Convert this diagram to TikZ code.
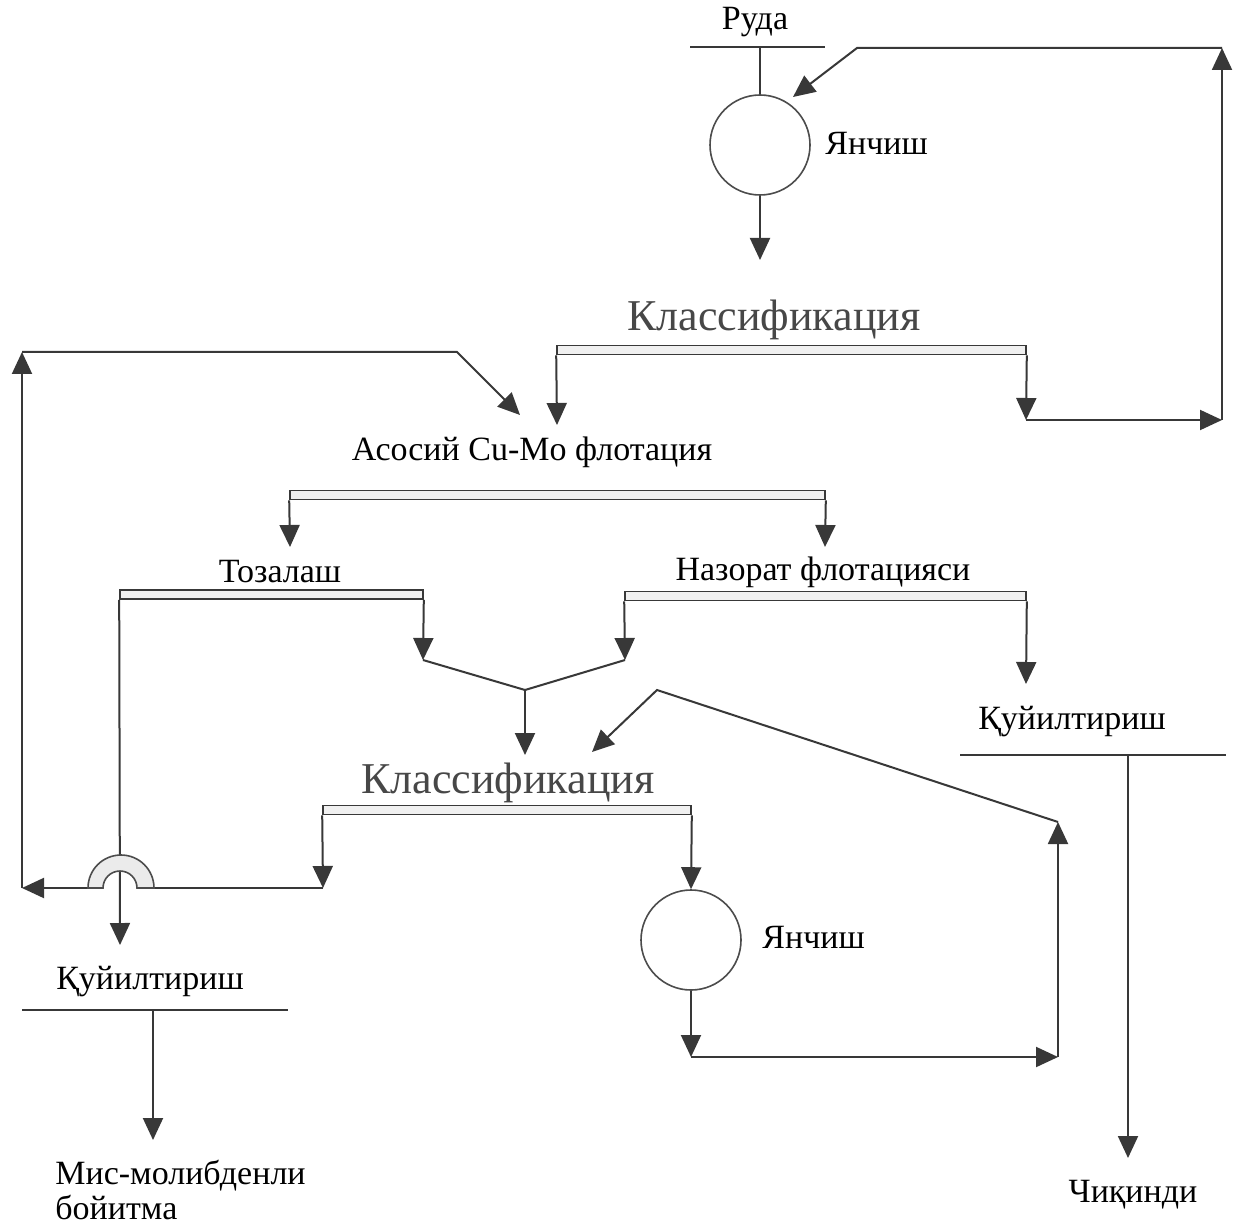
\documentclass[tikz,border=0pt]{standalone}
\usepackage{fontspec}
\setmainfont{Liberation Serif}
\usetikzlibrary{arrows.meta}
\begin{document}
\begin{tikzpicture}[x=0.5pt,y=-0.5pt,
  ln/.style={draw=black!78, line width=1pt},
  tip/.style={-{Triangle[length=11pt,width=10pt]}},
  lbl/.style={font=\fontsize{17}{17.5}\selectfont, inner sep=0pt},
  cls/.style={font=\fontsize{22}{26}\selectfont, text=black!72, inner sep=0pt},
  bar/.style={draw=black!78, line width=0.8pt, fill=black!6, inner sep=0pt, minimum height=4.5pt},
  mill/.style={circle, draw=black!70, line width=0.8pt, minimum size=50pt, inner sep=0pt},
  hump/.style={draw=black!70, line width=0.8pt, fill=black!8}]
\useasboundingbox[fill=white] (0,0) rectangle (1245,1224);

% ---- top: ore and grinding
\node[lbl] (ruda) at (755,22) {Руда};
\coordinate (rudaL) at (690,47);
\coordinate (rudaR) at (825,47);
\coordinate (rudaM) at (760,47);
\node[mill] (m1) at (760,145) {};
\node[lbl, anchor=west] (ya1) at (825,143) {Янчиш};
\coordinate (m1out) at (760,260);
\draw[ln] (rudaL) -- (rudaR);
\draw[ln] (rudaM) -- (m1.north);
\draw[ln,tip] (m1.south) -- (m1out);

% ---- classification 1
\node[cls] (cl1) at (774,320) {Классификация};
\node[bar, minimum width=234.5pt] (b1) at (791.5,350) {};
\coordinate (c1) at (557,425);
\coordinate (c2) at (1026,420);
\coordinate (c3) at (1222,420);
\coordinate (c4) at (1222,48);
\coordinate (c5) at (857,48);
\coordinate (c6) at (793,97);
\draw[ln,tip] (b1.south west) -- (c1);
\draw[ln,tip] (b1.south east) -- (c2);
\draw[ln,tip] (c2) -- (c3);
\draw[ln,tip] (c3) -- (c4);
\draw[ln,tip] (c4) -- (c5) -- (c6);

% ---- main flotation
\node[lbl] (fl) at (532,452) {Асосий Cu-Mo флотация};
\node[bar, minimum width=267.5pt] (b2) at (557.5,495) {};
\coordinate (e1) at (290,547);
\coordinate (e2) at (825,547);
\draw[ln,tip] (b2.south west) -- (e1);
\draw[ln,tip] (b2.south east) -- (e2);

% ---- cleaning and scavenging
\node[lbl] (toz) at (280,572) {Тозалаш};
\node[lbl] (naz) at (823,572) {Назорат флотацияси};
\node[bar, minimum width=151.5pt] (b3) at (271.5,594.5) {};
\node[bar, minimum width=200.5pt] (b4) at (825.5,596) {};
\coordinate (g1) at (423,660);
\coordinate (g2) at (625,660);
\coordinate (g3) at (525,690);
\coordinate (g4) at (525,755);
\draw[ln,tip] (b3.south east) -- (g1);
\draw[ln] (g1) -- (g3);
\draw[ln,tip] (b4.south west) -- (g2);
\draw[ln] (g2) -- (g3);
\draw[ln,tip] (g3) -- (g4);
\coordinate (h1) at (1026,684);
\draw[ln,tip] (b4.south east) -- (h1);

% ---- thickening (tailings)
\node[lbl] (kuy1) at (1072,722) {Қуйилтириш};
\coordinate (k1L) at (960,755);
\coordinate (k1R) at (1226,755);
\coordinate (k1M) at (1128,755);
\coordinate (k1out) at (1128,1158);
\draw[ln] (k1L) -- (k1R);
\draw[ln,tip] (k1M) -- (k1out);
\node[lbl] (chq) at (1133,1195) {Чиқинди};

% ---- classification 2
\node[cls] (cl2) at (508,783) {Классификация};
\node[bar, minimum width=184pt] (b5) at (507,810) {};
\coordinate (p1) at (323,888);
\coordinate (d1) at (22,888);
\coordinate (d2) at (22,352);
\coordinate (d3) at (457,352);
\coordinate (d4) at (520,415);
\coordinate (q1) at (120,945);
\coordinate (hR) at (154,888);
\coordinate (hL) at (88,888);
\draw[ln,tip] (b5.south west) -- (p1);
\draw[ln,tip] (b3.south west) -- (q1);
\draw[ln] (p1) -- (hR);
\draw[ln,tip] (hL) -- (d1);
\draw[hump] (hL) arc[start angle=180,end angle=0,radius=16.5pt]
  -- (137,888) arc[start angle=0,end angle=180,radius=8.5pt] -- cycle;
\draw[ln,tip] (d1) -- (d2);
\draw[ln,tip] (d2) -- (d3) -- (d4);

% ---- thickening (concentrate)
\node[lbl] (kuy2) at (150,982) {Қуйилтириш};
\coordinate (r1L) at (22,1010);
\coordinate (r1R) at (288,1010);
\coordinate (r1M) at (153,1010);
\coordinate (r1out) at (153,1140);
\draw[ln] (r1L) -- (r1R);
\draw[ln,tip] (r1M) -- (r1out);
\node[lbl, anchor=west, align=left] (mis) at (55,1190) {Мис-молибденли\\бойитма};

% ---- regrinding
\node[mill] (m2) at (691,940) {};
\node[lbl, anchor=west] (ya2) at (762,937) {Янчиш};
\coordinate (s1) at (691,1057);
\coordinate (s2) at (1058,1057);
\coordinate (s3) at (1058,822);
\coordinate (s4) at (657,690);
\coordinate (s5) at (592,752);
\draw[ln,tip] (b5.south east) -- (m2.north);
\draw[ln,tip] (m2.south) -- (s1);
\draw[ln,tip] (s1) -- (s2);
\draw[ln,tip] (s2) -- (s3);
\draw[ln,tip] (s3) -- (s4) -- (s5);
\end{tikzpicture}
\end{document}
